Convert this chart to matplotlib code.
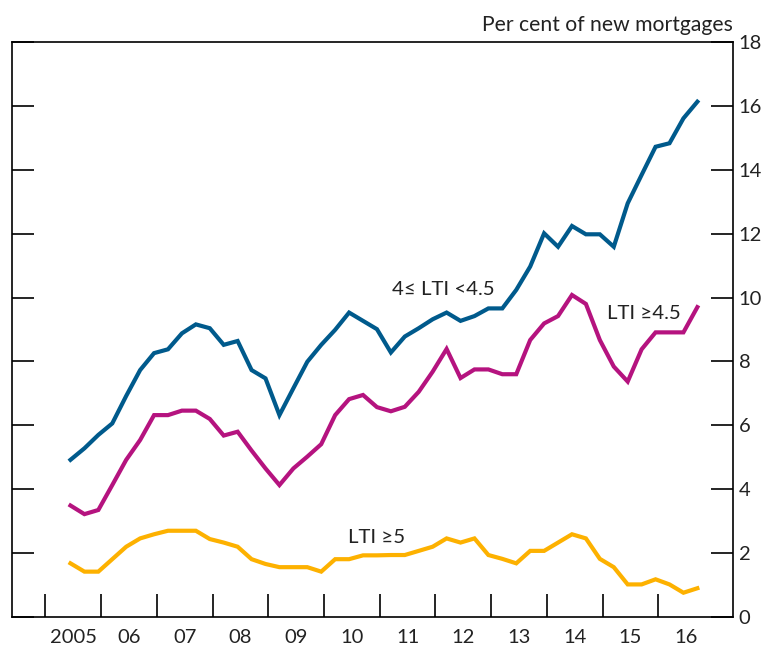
import matplotlib
matplotlib.use('Agg')
import matplotlib.pyplot as plt
import numpy as np

plt.rcParams['font.family'] = ['Lato', 'DejaVu Sans']

# Quarterly data, 2005 Q2 to 2016 Q3 (per cent of new mortgages)
inicio = 2005.45
lti_4_45 = [4.92, 5.28, 5.70, 6.06, 6.92, 7.73, 8.26, 8.38, 8.88, 9.16,
            9.04, 8.52, 8.64, 7.73, 7.47, 6.32, 7.16, 7.99, 8.52, 8.99,
            9.53, 9.27, 9.01, 8.28, 8.78, 9.04, 9.32, 9.53, 9.27, 9.42,
            9.66, 9.66, 10.24, 10.97, 12.01, 11.59, 12.24, 11.98, 11.98, 11.59,
            12.95, 13.84, 14.72, 14.83, 15.61, 16.13]
lti_45 = [3.49, 3.22, 3.35, 4.13, 4.92, 5.54, 6.32, 6.32, 6.46, 6.46,
          6.20, 5.68, 5.80, 5.21, 4.65, 4.13, 4.65, 5.02, 5.41, 6.32,
          6.82, 6.95, 6.57, 6.44, 6.58, 7.05, 7.68, 8.39, 7.48, 7.75,
          7.75, 7.60, 7.60, 8.67, 9.19, 9.42, 10.08, 9.80, 8.67, 7.84,
          7.37, 8.38, 8.91, 8.91, 8.91, 9.70]
lti_5 = [1.68, 1.42, 1.42, 1.81, 2.20, 2.46, 2.59, 2.70, 2.70, 2.70,
         2.44, 2.33, 2.20, 1.81, 1.66, 1.56, 1.56, 1.56, 1.42, 1.81,
         1.81, 1.93, 1.93, 1.94, 1.94, 2.07, 2.20, 2.46, 2.33, 2.46,
         1.94, 1.82, 1.68, 2.07, 2.07, 2.33, 2.59, 2.46, 1.82, 1.56,
         1.02, 1.02, 1.18, 1.02, 0.76, 0.90]

anios = list(range(2005, 2017))
etiquetas = ['2005'] + ['%02d' % (a % 100) for a in anios[1:]]

fechas = inicio + 0.25 * np.arange(len(lti_5))

fig = plt.figure(figsize=(7.72, 6.49), dpi=100)
ax = fig.add_axes([0.0155, 0.0493, 0.934, 0.886])

ax.plot(fechas, lti_4_45, color='#005A8C', lw=3, solid_joinstyle='miter')
ax.plot(fechas, lti_45, color='#B5137F', lw=3, solid_joinstyle='miter')
ax.plot(fechas, lti_5, color='#FDB100', lw=3, solid_joinstyle='miter')

ax.set_xlim(2004.40, 2017.34)
ax.set_ylim(0, 18)

# ejes
for s in ax.spines.values():
    s.set_linewidth(1.2)
    s.set_color('black')

ax.set_xticks(anios)
ax.set_xticklabels([])
ax.set_xticks([a + 0.5 for a in anios], minor=True)
ax.set_xticklabels(etiquetas, minor=True, fontsize=14.5)
ax.tick_params(axis='x', which='major', direction='in', length=16.5, width=1.2)
ax.tick_params(axis='x', which='minor', length=0, pad=8.5, colors='#222222')

ax.set_yticks(range(0, 19, 2))
ax.tick_params(axis='y', direction='in', length=16, width=1.2,
               left=True, right=True, labelleft=False, labelright=True,
               labelsize=14.5, pad=4, labelcolor='#222222')

ax.text(1.0, 1.012, 'Per cent of new mortgages', transform=ax.transAxes,
        ha='right', va='bottom', fontsize=15.2, color='#222222')

ax.text(2011.22, 10.24, '4\u2264 LTI <4.5', ha='left', va='center', fontsize=14.7, color='#222222')
ax.text(2015.08, 9.50, 'LTI \u22654.5', ha='left', va='center', fontsize=14.7, color='#222222')
ax.text(2010.43, 2.48, 'LTI \u22655', ha='left', va='center', fontsize=14.7, color='#222222')

plt.savefig('out.png', dpi=100)
